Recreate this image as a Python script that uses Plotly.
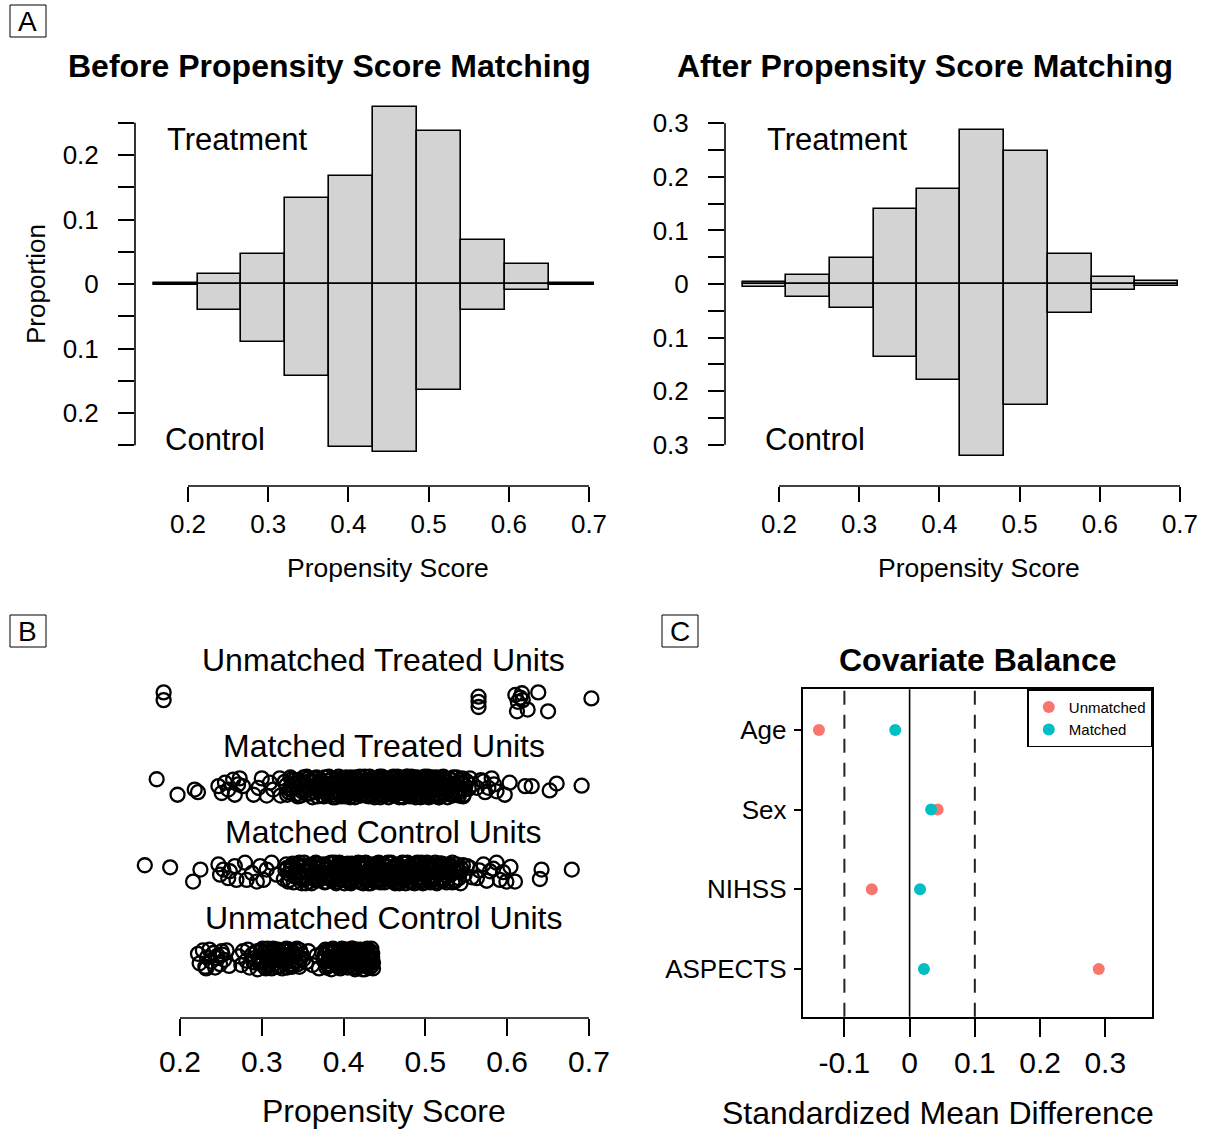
import plotly.graph_objects as go

W, H = 1206, 1131
FONT = "Liberation Sans, Arial, Helvetica, sans-serif"

# ---------------- Panel A data (proportions per bin) ----------------
before_breaks = [0.157, 0.212, 0.266, 0.321, 0.376, 0.431, 0.486, 0.540, 0.595, 0.650, 0.706]
before_treat = [0.002, 0.015, 0.046, 0.134, 0.168, 0.274, 0.238, 0.068, 0.031, 0.002]
before_ctrl = [0.002, 0.040, 0.090, 0.143, 0.252, 0.261, 0.164, 0.040, 0.009, 0.001]

after_breaks = [0.155, 0.209, 0.263, 0.318, 0.372, 0.426, 0.481, 0.535, 0.590, 0.644, 0.698]
after_treat = [0.004, 0.016, 0.048, 0.140, 0.177, 0.288, 0.249, 0.056, 0.013, 0.006]
after_ctrl = [0.006, 0.024, 0.044, 0.137, 0.180, 0.321, 0.225, 0.054, 0.012, 0.003]

ps_ticks = [0.2, 0.3, 0.4, 0.5, 0.6, 0.7]
ps_ticktext = ["0.2", "0.3", "0.4", "0.5", "0.6", "0.7"]
left_yticks = [-0.25, -0.2, -0.15, -0.1, -0.05, 0, 0.05, 0.1, 0.15, 0.2, 0.25]
left_yticktext = ["", "0.2", "", "0.1", "", "0", "", "0.1", "", "0.2", ""]
right_yticks = [-0.3, -0.25, -0.2, -0.15, -0.1, -0.05, 0, 0.05, 0.1, 0.15, 0.2, 0.25, 0.3]
right_yticktext = ["0.3", "", "0.2", "", "0.1", "", "0", "", "0.1", "", "0.2", "", "0.3"]

# ---------------- Panel B data: (propensity score, jitter) ----------------
unmatched_treated = [(0.180, 0.10), (0.180, 0.01), (0.565, 0.05), (0.565, -0.01), (0.565, -0.07),
                     (0.610, 0.07), (0.618, 0.09), (0.619, 0.01), (0.613, -0.01), (0.612, -0.12),
                     (0.625, -0.10), (0.638, 0.10), (0.650, -0.12), (0.703, 0.03), (0.616, 0.04)]

matched_treated = [
    (0.1715, 0.09), (0.197, -0.09), (0.218, -0.03), (0.222, -0.06), (0.247, 0.01), (0.251, -0.07),
    (0.255, 0.05), (0.259, -0.03), (0.265, 0.085), (0.271, 0.03), (0.273, 0.10), (0.277, 0.01),
    (0.267, -0.09), (0.290, -0.09), (0.296, -0.01), (0.300, 0.10), (0.306, -0.10), (0.310, 0.05),
    (0.314, -0.03), (0.322, 0.10), (0.323, -0.10),
    (0.328, 0.06), (0.331, -0.09), (0.335, 0.11), (0.336, -0.02), (0.340, 0.04), (0.344, -0.11),
    (0.345, 0.08), (0.349, -0.05), (0.353, 0.01), (0.355, 0.12), (0.356, -0.08), (0.361, 0.05),
    (0.362, -0.12), (0.366, 0.09), (0.369, -0.03), (0.371, 0.02), (0.374, -0.10), (0.377, 0.11),
    (0.379, -0.06), (0.381, 0.07), (0.383, -0.01), (0.386, 0.10), (0.388, -0.09), (0.389, 0.03),
    (0.392, -0.04), (0.394, 0.12), (0.397, -0.11), (0.399, 0.06), (0.401, -0.07), (0.403, 0.00),
    (0.404, 0.09), (0.408, -0.12), (0.410, 0.04), (0.412, -0.03), (0.415, 0.11), (0.416, -0.08),
    (0.419, 0.07), (0.421, -0.10), (0.422, 0.02), (0.426, 0.12), (0.427, -0.05), (0.429, 0.08),
    (0.431, -0.11), (0.434, 0.01), (0.436, 0.10), (0.437, -0.07), (0.439, 0.05), (0.441, -0.02),
    (0.444, 0.12), (0.445, -0.12), (0.446, 0.03), (0.449, -0.06), (0.451, 0.09), (0.453, -0.09),
    (0.454, 0.06), (0.456, -0.01), (0.459, 0.11), (0.461, -0.10), (0.462, 0.04), (0.464, -0.04),
    (0.466, 0.12), (0.468, -0.12), (0.469, 0.07), (0.471, -0.07), (0.473, 0.02), (0.474, 0.10),
    (0.476, -0.03), (0.479, 0.08), (0.481, -0.11), (0.482, 0.05), (0.484, -0.06), (0.486, 0.11),
    (0.487, -0.09), (0.489, 0.01), (0.491, 0.09), (0.494, -0.12), (0.495, 0.06), (0.496, -0.02),
    (0.499, 0.12), (0.501, -0.08), (0.503, 0.03), (0.504, -0.05), (0.506, 0.10), (0.508, -0.11),
    (0.511, 0.07), (0.512, -0.01), (0.514, 0.11), (0.517, -0.09), (0.519, 0.04), (0.522, -0.06),
    (0.524, 0.09), (0.527, -0.12), (0.529, 0.02), (0.532, 0.08), (0.536, -0.07), (0.539, 0.05),
    (0.541, -0.10), (0.545, 0.10), (0.548, -0.03), (0.352, -0.04), (0.373, 0.06), (0.395, -0.06),
    (0.418, 0.01), (0.433, -0.09), (0.447, 0.07), (0.458, -0.05), (0.467, 0.00), (0.478, 0.12),
    (0.492, -0.04), (0.505, 0.05), (0.516, -0.12), (0.338, 0.01), (0.363, 0.10), (0.384, 0.04),
    (0.406, -0.09), (0.425, 0.06), (0.443, -0.08), (0.457, 0.03), (0.472, -0.11), (0.488, 0.08),
    (0.498, -0.02), (0.509, 0.11), (0.525, -0.04),
    (0.330, 0.02), (0.333, -0.06), (0.337, 0.09), (0.342, -0.01), (0.346, 0.05), (0.348, -0.10),
    (0.351, 0.11), (0.354, -0.03), (0.358, 0.07), (0.360, -0.07), (0.364, 0.01), (0.367, 0.11),
    (0.368, -0.11), (0.372, 0.08), (0.375, -0.04), (0.378, 0.03), (0.380, -0.09), (0.382, 0.12),
    (0.385, -0.06), (0.387, 0.05), (0.390, -0.12), (0.391, 0.09), (0.393, 0.00), (0.396, -0.08),
    (0.398, 0.10), (0.400, 0.02), (0.402, -0.11), (0.405, 0.06), (0.407, -0.02), (0.409, 0.11),
    (0.411, -0.06), (0.413, 0.03), (0.414, -0.12), (0.417, 0.08), (0.420, -0.04), (0.423, 0.10),
    (0.424, -0.08), (0.428, 0.04), (0.430, -0.01), (0.432, 0.12), (0.435, -0.10), (0.438, 0.07),
    (0.440, -0.05), (0.442, 0.02), (0.443, 0.11), (0.446, -0.09), (0.448, 0.05), (0.450, -0.02),
    (0.452, 0.10), (0.455, -0.12), (0.456, 0.07), (0.458, 0.00), (0.460, -0.06), (0.461, 0.12),
    (0.463, -0.09), (0.465, 0.03), (0.467, -0.03), (0.469, 0.11), (0.470, -0.11), (0.472, 0.06),
    (0.474, -0.07), (0.475, 0.01), (0.477, 0.12), (0.478, -0.05), (0.480, 0.04), (0.481, -0.10),
    (0.483, 0.09), (0.485, -0.01), (0.486, 0.06), (0.488, -0.12), (0.490, 0.11), (0.491, -0.04),
    (0.493, 0.03), (0.495, -0.08), (0.497, 0.10), (0.498, -0.11), (0.500, 0.05), (0.502, -0.02),
    (0.503, 0.12), (0.505, -0.07), (0.507, 0.02), (0.508, 0.09), (0.510, -0.10), (0.512, 0.04),
    (0.513, -0.04), (0.515, 0.10), (0.517, -0.12), (0.518, 0.06), (0.520, -0.01), (0.521, 0.11),
    (0.523, -0.09), (0.526, 0.03), (0.528, -0.05), (0.530, 0.09), (0.533, -0.10), (0.535, 0.01),
    (0.538, 0.11), (0.542, -0.06), (0.544, 0.04), (0.547, -0.09), (0.550, 0.07), (0.553, -0.02),
    (0.558, 0.03), (0.568, 0.08), (0.573, -0.06), (0.584, 0.03),
    (0.334, -0.03), (0.339, 0.07), (0.343, -0.08), (0.347, 0.02), (0.357, 0.10), (0.359, -0.02),
    (0.365, -0.06), (0.370, 0.06), (0.376, -0.11), (0.379, 0.04), (0.385, 0.09), (0.387, -0.12),
    (0.392, 0.06), (0.396, 0.03), (0.400, -0.09), (0.403, 0.11), (0.406, -0.04), (0.409, -0.11),
    (0.411, 0.08), (0.414, 0.00), (0.418, -0.06), (0.420, 0.12), (0.424, 0.04), (0.427, -0.10),
    (0.430, 0.07), (0.433, -0.03), (0.436, 0.02), (0.438, -0.12), (0.441, 0.09), (0.444, -0.05),
    (0.447, 0.12), (0.449, -0.10), (0.452, 0.00), (0.455, 0.08), (0.457, -0.08), (0.460, 0.10),
    (0.463, 0.01), (0.466, -0.07), (0.468, 0.04), (0.470, 0.10), (0.473, -0.12), (0.476, 0.05),
    (0.478, -0.08), (0.481, 0.01), (0.483, 0.12), (0.486, -0.10), (0.489, -0.02), (0.491, 0.06),
    (0.494, 0.00), (0.496, 0.10), (0.499, -0.06), (0.501, 0.08), (0.504, -0.12), (0.507, -0.01),
    (0.509, 0.05), (0.511, -0.08), (0.514, 0.02), (0.516, 0.08), (0.519, -0.10), (0.522, 0.12),
    (0.525, 0.00), (0.527, 0.06), (0.531, -0.08), (0.534, 0.11), (0.537, 0.02), (0.540, -0.04),
    (0.543, 0.08), (0.546, -0.11), (0.549, 0.01),
    (0.5545, 0.10), (0.563, -0.01), (0.571, 0.065), (0.577, -0.01), (0.581, 0.10), (0.587, -0.05),
    (0.597, -0.09), (0.603, 0.05), (0.622, 0.01), (0.630, 0.01), (0.652, -0.04), (0.6605, 0.04),
    (0.691, 0.015)]

matched_control = [
    (0.157, 0.09), (0.188, 0.066), (0.216, -0.10), (0.225, 0.04), (0.247, 0.10), (0.253, 0.04),
    (0.249, -0.02), (0.259, -0.06), (0.261, 0.02), (0.267, 0.08), (0.269, -0.08), (0.2795, 0.12),
    (0.2815, -0.08), (0.288, 0.00), (0.294, -0.10), (0.298, 0.08), (0.302, -0.08), (0.306, 0.04),
    (0.312, 0.12), (0.318, -0.02),
    (0.327, -0.07), (0.330, 0.10), (0.333, -0.01), (0.337, 0.06), (0.339, -0.11), (0.342, 0.03),
    (0.346, 0.12), (0.348, -0.06), (0.351, 0.08), (0.354, -0.12), (0.357, 0.01), (0.359, 0.09),
    (0.362, -0.04), (0.365, 0.11), (0.367, -0.09), (0.370, 0.05), (0.372, -0.02), (0.375, 0.10),
    (0.378, -0.10), (0.380, 0.04), (0.382, -0.06), (0.385, 0.12), (0.387, -0.03), (0.390, 0.07),
    (0.391, -0.12), (0.393, 0.02), (0.396, 0.09), (0.398, -0.08), (0.400, 0.05), (0.402, -0.01),
    (0.405, 0.11), (0.407, -0.11), (0.409, 0.03), (0.411, -0.05), (0.413, 0.08), (0.417, -0.09),
    (0.418, 0.12), (0.420, -0.02), (0.423, 0.06), (0.424, -0.12), (0.428, 0.01), (0.430, 0.10),
    (0.432, -0.07), (0.435, 0.04), (0.438, -0.10), (0.440, 0.09), (0.442, -0.03), (0.443, 0.12),
    (0.447, -0.06), (0.448, 0.02), (0.450, -0.11), (0.452, 0.07), (0.455, -0.01), (0.457, 0.11),
    (0.458, -0.08), (0.460, 0.05), (0.463, -0.12), (0.465, 0.00), (0.467, 0.09), (0.470, -0.05),
    (0.472, 0.12), (0.473, -0.09), (0.475, 0.03), (0.477, -0.02), (0.480, 0.08), (0.483, -0.11),
    (0.485, 0.06), (0.486, -0.04), (0.488, 0.10), (0.490, -0.07), (0.493, 0.01), (0.494, 0.11),
    (0.497, -0.12), (0.499, 0.04), (0.500, -0.01), (0.502, 0.09), (0.505, -0.09), (0.507, 0.06),
    (0.509, -0.03), (0.512, 0.12), (0.513, -0.10), (0.515, 0.02), (0.518, 0.08), (0.520, -0.06),
    (0.523, 0.05), (0.526, -0.11), (0.528, 0.10), (0.531, -0.02), (0.534, 0.07), (0.537, -0.08),
    (0.540, 0.03), (0.543, -0.12), (0.546, 0.09), (0.344, -0.02), (0.368, 0.07), (0.389, -0.06),
    (0.412, 0.10), (0.426, -0.04), (0.437, 0.06), (0.453, -0.05), (0.462, 0.08), (0.476, -0.12),
    (0.489, 0.03), (0.503, -0.06), (0.517, 0.11), (0.335, 0.04), (0.358, -0.10), (0.379, 0.08),
    (0.401, -0.04), (0.421, 0.09), (0.445, 0.00), (0.459, -0.07), (0.469, 0.05), (0.481, -0.03),
    (0.496, 0.07), (0.510, -0.05), (0.529, 0.01),
    (0.329, 0.03), (0.332, -0.10), (0.336, 0.08), (0.340, -0.04), (0.343, 0.10), (0.347, 0.00),
    (0.350, -0.08), (0.352, 0.12), (0.356, -0.05), (0.360, 0.06), (0.361, -0.12), (0.364, 0.02),
    (0.366, -0.07), (0.369, 0.10), (0.371, -0.01), (0.374, 0.07), (0.377, -0.11), (0.381, 0.05),
    (0.383, -0.03), (0.384, 0.11), (0.386, -0.09), (0.388, 0.01), (0.392, 0.08), (0.394, -0.06),
    (0.395, 0.12), (0.397, -0.02), (0.399, 0.06), (0.401, -0.12), (0.403, 0.09), (0.404, -0.04),
    (0.406, 0.02), (0.408, -0.09), (0.410, 0.11), (0.414, -0.06), (0.415, 0.04), (0.416, -0.01),
    (0.419, 0.10), (0.421, -0.11), (0.422, 0.07), (0.425, -0.03), (0.427, 0.12), (0.429, -0.08),
    (0.431, 0.03), (0.433, -0.12), (0.434, 0.08), (0.436, -0.05), (0.439, 0.01), (0.441, 0.11),
    (0.444, -0.09), (0.446, 0.05), (0.449, -0.02), (0.451, 0.09), (0.454, -0.07), (0.456, 0.03),
    (0.458, 0.12), (0.461, -0.10), (0.462, 0.06), (0.464, -0.03), (0.466, 0.10), (0.468, -0.12),
    (0.471, 0.02), (0.474, -0.06), (0.476, 0.11), (0.478, -0.01), (0.479, 0.07), (0.482, -0.09),
    (0.484, 0.04), (0.487, -0.12), (0.489, 0.09), (0.491, -0.05), (0.492, 0.01), (0.495, 0.12),
    (0.496, -0.08), (0.498, 0.05), (0.501, -0.03), (0.504, 0.10), (0.506, -0.11), (0.508, 0.03),
    (0.511, -0.06), (0.514, 0.08), (0.516, -0.01), (0.519, 0.11), (0.521, -0.09), (0.524, 0.04),
    (0.527, -0.04), (0.530, 0.09), (0.533, -0.11), (0.535, 0.02), (0.538, 0.10), (0.541, -0.06),
    (0.544, 0.05), (0.548, -0.02), (0.551, 0.08), (0.557, -0.05), (0.566, 0.03), (0.575, -0.09),
    (0.583, 0.05), (0.595, 0.01), (0.604, 0.07),
    (0.331, 0.06), (0.334, -0.08), (0.338, 0.11), (0.341, -0.03), (0.345, 0.07), (0.349, -0.12),
    (0.353, 0.03), (0.355, -0.06), (0.358, 0.09), (0.363, -0.01), (0.366, 0.12), (0.370, -0.08),
    (0.373, 0.01), (0.376, 0.09), (0.379, -0.05), (0.382, 0.11), (0.386, 0.03), (0.389, 0.12),
    (0.392, -0.10), (0.395, -0.02), (0.398, 0.10), (0.402, 0.07), (0.405, -0.07), (0.409, -0.12),
    (0.412, 0.04), (0.415, -0.09), (0.418, 0.00), (0.421, 0.05), (0.424, 0.10), (0.427, -0.07),
    (0.430, -0.12), (0.433, 0.06), (0.436, 0.10), (0.439, -0.08), (0.442, 0.07), (0.445, -0.11),
    (0.448, 0.10), (0.451, -0.04), (0.454, 0.12), (0.457, -0.02), (0.460, -0.10), (0.463, 0.08),
    (0.466, -0.05), (0.469, -0.11), (0.472, 0.04), (0.475, -0.08), (0.478, 0.12), (0.481, 0.06),
    (0.484, -0.03), (0.487, 0.08), (0.490, 0.12), (0.493, -0.09), (0.496, 0.02), (0.499, -0.11),
    (0.502, 0.12), (0.505, 0.03), (0.508, -0.08), (0.511, 0.09), (0.514, -0.12), (0.517, 0.05),
    (0.520, 0.11), (0.523, -0.07), (0.526, 0.07), (0.530, -0.01), (0.533, 0.12), (0.536, -0.10),
    (0.539, 0.06), (0.543, 0.01),
    (0.5545, 0.06), (0.563, -0.06), (0.571, 0.10), (0.579, 0.02), (0.587, 0.12), (0.591, -0.08),
    (0.599, -0.10), (0.6095, -0.10), (0.642, 0.04), (0.640, -0.07), (0.679, 0.04)]

unmatched_control = [
    (0.222, 0.06), (0.224, -0.05), (0.228, 0.10), (0.231, -0.09), (0.233, 0.02), (0.236, 0.11),
    (0.238, -0.03), (0.241, 0.07), (0.243, -0.10), (0.246, 0.04), (0.249, -0.06), (0.251, 0.09),
    (0.254, -0.01), (0.257, 0.10), (0.260, -0.08), (0.245, 0.01), (0.232, -0.11), (0.252, 0.05),
    (0.272, 0.03), (0.275, -0.07), (0.277, 0.09), (0.281, -0.02), (0.283, 0.11), (0.285, -0.10),
    (0.288, 0.05), (0.290, -0.04), (0.292, 0.08), (0.295, -0.12), (0.296, 0.01), (0.299, 0.10),
    (0.300, -0.06), (0.303, 0.06), (0.304, -0.09), (0.307, 0.12), (0.308, -0.02), (0.311, 0.04),
    (0.312, -0.11), (0.315, 0.09), (0.316, -0.05), (0.319, 0.02), (0.320, 0.11), (0.323, -0.08),
    (0.324, 0.06), (0.327, -0.01), (0.329, 0.10), (0.331, -0.10), (0.334, 0.03), (0.336, -0.06),
    (0.338, 0.08), (0.342, -0.03), (0.343, 0.12), (0.346, -0.09), (0.349, 0.05), (0.354, -0.04),
    (0.357, 0.09), (0.362, -0.07), (0.367, 0.04), (0.370, -0.11), (0.374, 0.07), (0.376, -0.02),
    (0.378, 0.11), (0.381, -0.08), (0.382, 0.02), (0.385, -0.12), (0.386, 0.06), (0.389, -0.04),
    (0.390, 0.10), (0.393, -0.09), (0.394, 0.03), (0.397, -0.01), (0.398, 0.12), (0.401, -0.06),
    (0.402, 0.07), (0.405, -0.10), (0.406, 0.01), (0.409, 0.09), (0.410, -0.03), (0.413, 0.05),
    (0.414, -0.12), (0.417, 0.11), (0.418, -0.07), (0.421, 0.02), (0.422, 0.08), (0.425, -0.05),
    (0.426, 0.10), (0.429, -0.09), (0.430, 0.04), (0.433, -0.02), (0.434, 0.12), (0.436, -0.11),
    (0.435, 0.06), (0.436, -0.04), (0.434, 0.01),
    (0.291, 0.01), (0.294, 0.09), (0.297, -0.05), (0.301, 0.12), (0.305, -0.11), (0.306, 0.03),
    (0.309, 0.08), (0.313, -0.07), (0.317, 0.11), (0.318, -0.01), (0.321, 0.05), (0.325, -0.11),
    (0.328, 0.09), (0.330, -0.04), (0.332, 0.01), (0.335, 0.11), (0.337, -0.09), (0.340, 0.04),
    (0.344, -0.06), (0.347, 0.10), (0.351, 0.00), (0.377, 0.05), (0.379, -0.10), (0.383, 0.08),
    (0.384, -0.03), (0.387, 0.12), (0.391, -0.07), (0.392, 0.04), (0.395, 0.10), (0.396, -0.11),
    (0.399, 0.02), (0.400, 0.08), (0.403, -0.04), (0.404, 0.11), (0.407, -0.08), (0.408, 0.04),
    (0.411, 0.12), (0.412, -0.10), (0.415, 0.00), (0.416, 0.07), (0.419, -0.05), (0.420, 0.10),
    (0.423, -0.12), (0.424, 0.03), (0.427, 0.09), (0.428, -0.07), (0.431, 0.06), (0.432, -0.10),
    (0.435, 0.02), (0.433, 0.09), (0.431, -0.06), (0.428, 0.10), (0.426, -0.12),
    (0.298, -0.02), (0.302, 0.07), (0.306, -0.06), (0.310, 0.01), (0.314, 0.12), (0.318, -0.09),
    (0.322, 0.08), (0.326, 0.02), (0.330, 0.12), (0.333, -0.07), (0.337, 0.05), (0.341, 0.10),
    (0.345, 0.02), (0.380, 0.09), (0.383, -0.06), (0.386, 0.00), (0.389, 0.10), (0.393, 0.07),
    (0.397, -0.08), (0.401, 0.11), (0.405, 0.04), (0.409, -0.07), (0.413, -0.01), (0.417, -0.10),
    (0.421, 0.11), (0.425, 0.01), (0.429, 0.12), (0.432, 0.03), (0.434, -0.08), (0.425, 0.06),
    (0.418, 0.04), (0.410, 0.12)]

row_labels = ["Unmatched Treated Units", "Matched Treated Units",
              "Matched Control Units", "Unmatched Control Units"]
row_positions = [4, 3, 2, 1]

# ---------------- Panel C data ----------------
covariates = ["Age", "Sex", "NIHSS", "ASPECTS"]
cov_positions = [4, 3, 2, 1]
smd_unmatched = [-0.139, 0.043, -0.058, 0.290]
smd_matched = [-0.022, 0.033, 0.016, 0.022]
smd_ticks = [-0.1, 0, 0.1, 0.2, 0.3]
smd_ticktext = ["-0.1", "0", "0.1", "0.2", "0.3"]


def fx(p):
    return p / W


def fy(p):
    return 1 - p / H


fig = go.Figure()


def add_hist(breaks, treat, ctrl, xa, ya):
    centers = [(a + b) / 2 for a, b in zip(breaks[:-1], breaks[1:])]
    widths = [b - a for a, b in zip(breaks[:-1], breaks[1:])]
    style = dict(color="#D3D3D3", line=dict(color="black", width=1.6))
    fig.add_trace(go.Bar(x=centers, y=treat, width=widths, xaxis=xa, yaxis=ya,
                         marker=style, showlegend=False, name="Treatment"))
    fig.add_trace(go.Bar(x=centers, y=[-v for v in ctrl], width=widths, xaxis=xa, yaxis=ya,
                         marker=style, showlegend=False, name="Control"))


add_hist(before_breaks, before_treat, before_ctrl, "x", "y")
add_hist(after_breaks, after_treat, after_ctrl, "x2", "y2")

for pts, row in zip([unmatched_treated, matched_treated, matched_control, unmatched_control],
                    row_positions):
    fig.add_trace(go.Scatter(
        x=[p[0] for p in pts], y=[row + p[1] for p in pts], mode="markers",
        xaxis="x3", yaxis="y3", showlegend=False,
        marker=dict(symbol="circle-open", size=14, color="black", line=dict(width=2.3, color="black"))))

fig.add_trace(go.Scatter(x=smd_unmatched, y=cov_positions, mode="markers", name="Unmatched",
                         xaxis="x4", yaxis="y4", marker=dict(color="#F8766D", size=12)))
fig.add_trace(go.Scatter(x=smd_matched, y=cov_positions, mode="markers", name="Matched",
                         xaxis="x4", yaxis="y4", marker=dict(color="#00BFC4", size=12)))

base_axis = dict(showgrid=False, zeroline=False, showline=False, ticks="outside",
                 tickcolor="black", tickwidth=1.5, color="black", automargin=False,
                 tickfont=dict(family=FONT, size=26, color="black"), fixedrange=True)

layout = dict(
    width=W, height=H, margin=dict(l=0, r=0, t=0, b=0, pad=0, autoexpand=False),
    paper_bgcolor="white", plot_bgcolor="white", barmode="overlay", bargap=0,
    font=dict(family=FONT, color="black"),
    xaxis=dict(base_axis, domain=[fx(135), fx(600)], range=[0.1339, 0.7137], anchor="y",
               tickvals=ps_ticks, ticktext=ps_ticktext, ticklen=15),
    yaxis=dict(base_axis, domain=[fy(486), fy(100)], range=[-0.3132, 0.2853], anchor="x",
               tickvals=left_yticks, ticktext=left_yticktext, ticklen=16, ticklabelstandoff=14),
    xaxis2=dict(base_axis, domain=[fx(725), fx(1190)], range=[0.1327, 0.7125], anchor="y2",
                tickvals=ps_ticks, ticktext=ps_ticktext, ticklen=15),
    yaxis2=dict(base_axis, domain=[fy(486), fy(100)], range=[-0.3769, 0.3433], anchor="x2",
                tickvals=right_yticks, ticktext=right_yticktext, ticklen=16, ticklabelstandoff=14),
    xaxis3=dict(base_axis, domain=[fx(130), fx(610)], range=[0.1389, 0.7257], anchor="y3",
                tickvals=ps_ticks, ticktext=ps_ticktext, ticklen=17,
                tickfont=dict(family=FONT, size=30, color="black")),
    yaxis3=dict(base_axis, domain=[fy(1018), fy(640)], range=[0.314, 4.709], anchor="x3",
                ticks="", showticklabels=False),
    xaxis4=dict(base_axis, domain=[fx(802.7), fx(1152.3)], range=[-0.1639, 0.3721], anchor="y4",
                tickvals=smd_ticks, ticktext=smd_ticktext, ticklen=18, showline=True, mirror=True,
                linecolor="black", linewidth=2,
                tickfont=dict(family=FONT, size=30, color="black")),
    yaxis4=dict(base_axis, domain=[fy(1016.7), fy(689.3)], range=[0.40, 4.51], anchor="x4",
                tickvals=cov_positions, ticktext=covariates, ticklen=7, showline=True, mirror=True,
                linecolor="black", linewidth=2, ticklabelstandoff=2),
    legend=dict(x=fx(1152.3), xanchor="right", y=fy(689.3), yanchor="top",
                bordercolor="black", borderwidth=1.5, bgcolor="white",
                font=dict(family=FONT, size=15, color="black"), itemwidth=30,
                tracegroupgap=0),
)
fig.update_layout(**layout)

line = dict(color="black", width=1.6)
shapes = [
    # R-style axis lines spanning only the tick range
    dict(type="line", xref="x domain", x0=0, x1=0, yref="y", y0=-0.25, y1=0.25, line=line),
    dict(type="line", xref="x", x0=0.2, x1=0.7, yref="y domain", y0=0, y1=0, line=line),
    dict(type="line", xref="x2 domain", x0=0, x1=0, yref="y2", y0=-0.3, y1=0.3, line=line),
    dict(type="line", xref="x2", x0=0.2, x1=0.7, yref="y2 domain", y0=0, y1=0, line=line),
    dict(type="line", xref="x3", x0=0.2, x1=0.7, yref="y3 domain", y0=0, y1=0, line=line),
    # Panel C reference lines
    dict(type="line", xref="x4", x0=-0.1, x1=-0.1, yref="y4 domain", y0=0, y1=1,
         line=dict(color="#222222", width=2, dash="14px,10px")),
    dict(type="line", xref="x4", x0=0.1, x1=0.1, yref="y4 domain", y0=0, y1=1,
         line=dict(color="#222222", width=2, dash="14px,10px")),
    dict(type="line", xref="x4", x0=0, x1=0, yref="y4 domain", y0=0, y1=1,
         line=dict(color="black", width=1.6)),
]
# panel letter boxes
for (x0, y0) in [(10, 5), (10, 615), (662, 615)]:
    shapes.append(dict(type="rect", xref="paper", yref="paper", x0=fx(x0), x1=fx(x0 + 36),
                       y0=fy(y0 + 32), y1=fy(y0), line=dict(color="black", width=1)))
fig.update_layout(shapes=shapes)

ann = []


def text(x, y, s, size, xanchor="center", bold=False, angle=0, xref="paper", yref="paper"):
    ann.append(dict(x=x, y=y, xref=xref, yref=yref, text=("<b>%s</b>" % s) if bold else s,
                    showarrow=False, xanchor=xanchor, yanchor="middle", textangle=angle,
                    font=dict(family=FONT, size=size, color="black")))


text(fx(28), fy(21), "A", 28)
text(fx(28), fy(631), "B", 28)
text(fx(680), fy(631), "C", 28)
text(fx(330), fy(66), "Before Propensity Score Matching", 32, bold=True)
text(fx(925), fy(66), "After Propensity Score Matching", 32, bold=True)
text(fx(165), fy(139), "Treatment", 31, xanchor="left")
text(fx(163), fy(439), "Control", 31, xanchor="left")
text(fx(765), fy(139), "Treatment", 31, xanchor="left")
text(fx(763), fy(439), "Control", 31, xanchor="left")
text(fx(387.5), fy(568), "Propensity Score", 26.5)
text(fx(979), fy(568), "Propensity Score", 26.5)
text(fx(36), fy(284), "Proportion", 26, angle=-90)
for lab, row in zip(row_labels, row_positions):
    text(0.4494, row + 0.475, lab, 32, xref="x3", yref="y3")
text(fx(384), fy(1111), "Propensity Score", 32)
text(fx(977.5), fy(660), "Covariate Balance", 32, bold=True)
text(fx(937.5), fy(1113), "Standardized Mean Difference", 32)
fig.update_layout(annotations=ann)

fig.write_html("out.html", config={"displayModeBar": False},
               post_script="document.body.style.margin='0';document.body.style.overflow='hidden';")
